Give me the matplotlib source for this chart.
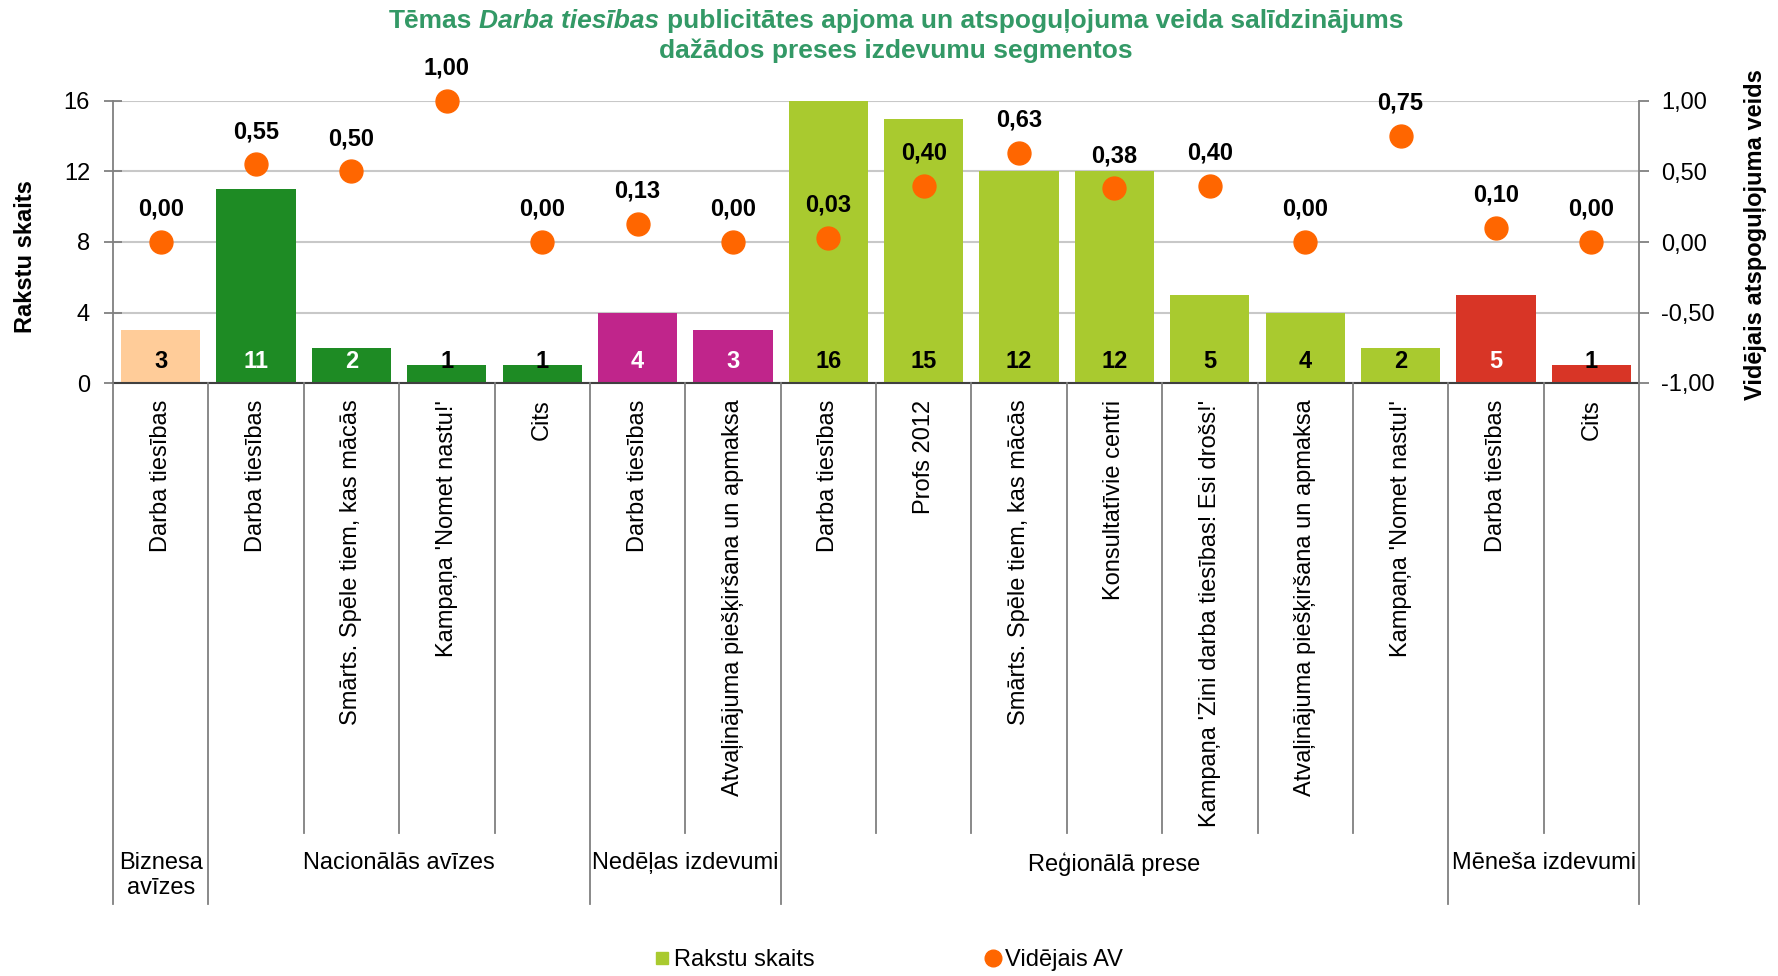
import matplotlib
matplotlib.use("Agg")
import matplotlib.pyplot as plt
from matplotlib.lines import Line2D
from matplotlib.transforms import blended_transform_factory

plt.rcParams["font.family"] = ["Liberation Sans", "DejaVu Sans"]

# --- data -------------------------------------------------------------
categories = [
    "Darba tiesības",
    "Darba tiesības", "Smārts. Spēle tiem, kas mācās", "Kampaņa 'Nomet nastu!'", "Cits",
    "Darba tiesības", "Atvaļinājuma piešķiršana un apmaksa",
    "Darba tiesības", "Profs 2012", "Smārts. Spēle tiem, kas mācās", "Konsultatīvie centri",
    "Kampaņa 'Zini darba tiesības! Esi drošs!'", "Atvaļinājuma piešķiršana un apmaksa",
    "Kampaņa 'Nomet nastu!'",
    "Darba tiesības", "Cits",
]
group_names = ["Biznesa\navīzes", "Nacionālās avīzes", "Nedēļas izdevumi",
               "Reģionālā prese", "Mēneša izdevumi"]
group_sizes = [1, 4, 2, 7, 2]
group_colors = ["#FFCC99", "#1E8B24", "#C0258B", "#A9CA2F", "#D83526"]
group_label_colors = ["black", "white", "white", "black", "white"]

counts = [3, 11, 2, 1, 1, 4, 3, 16, 15, 12, 12, 5, 4, 2, 5, 1]
avg_av = [0.00, 0.55, 0.50, 1.00, 0.00, 0.13, 0.00, 0.03, 0.40, 0.63, 0.38,
          0.40, 0.00, 0.75, 0.10, 0.00]

W_PX, H_PX = 1778, 976
FS = 17
GRAY = "#808080"


def comma(v, fmt="{:.2f}"):
    return fmt.format(v).replace(".", ",")


fig = plt.figure(figsize=(W_PX / 100, H_PX / 100), dpi=100)
ax_l, ax_r, ax_t, ax_b = 113, 1639, 101, 383
ax = fig.add_axes([ax_l / W_PX, 1 - ax_b / H_PX, (ax_r - ax_l) / W_PX, (ax_b - ax_t) / H_PX])

# per-bar colours from groups
bar_colors, label_colors = [], []
for size, col, lcol in zip(group_sizes, group_colors, group_label_colors):
    bar_colors += [col] * size
    label_colors += [lcol] * size

x = list(range(len(categories)))
ax.bar(x, counts, width=0.83, color=bar_colors, zorder=2)
for xi, c, lc in zip(x, counts, label_colors):
    ax.annotate(str(c), (xi, 0), xytext=(0, 11), textcoords="offset points",
                ha="center", va="baseline", fontsize=FS, fontweight="bold",
                color=lc if c > 1 else "black", zorder=5)

ax.set_xlim(-0.5, len(categories) - 0.5)
ax.set_ylim(0, 16)
ax.set_yticks([0, 4, 8, 12, 16])
ax.yaxis.grid(True, color="#C8C8C8", linewidth=1.5, zorder=0)
ax.set_axisbelow(True)
ax.set_xticks(x)
ax.set_xticklabels(categories, rotation=90, va="top", ha="center", fontsize=FS)
ax.tick_params(axis="x", length=0, pad=12)
ax.tick_params(axis="y", direction="inout", length=13, width=1.3, color=GRAY,
               labelsize=FS, pad=10)
for s in ["top", "right"]:
    ax.spines[s].set_visible(False)
ax.spines["left"].set_color(GRAY)
ax.spines["left"].set_linewidth(1.3)
ax.spines["bottom"].set_color("#404040")
ax.spines["bottom"].set_linewidth(1.5)
ax.set_ylabel("Rakstu skaits", fontsize=FS, fontweight="bold")
ax.yaxis.set_label_coords(-0.0498, 0.447)

ax2 = ax.twinx()
ax2.set_ylim(-1, 1)
ax2.set_yticks([-1, -0.5, 0, 0.5, 1])
ax2.set_yticklabels([comma(v) for v in [-1, -0.5, 0, 0.5, 1]])
ax2.plot(x, avg_av, linestyle="none", marker="o", markersize=16.5,
         color="#FF6600", zorder=4, clip_on=False)
for xi, v in zip(x, avg_av):
    ax2.annotate(comma(v), (xi, v), xytext=(0, 19), textcoords="offset points",
                 ha="center", va="baseline", fontsize=FS, fontweight="bold")
for s in ["top", "left", "bottom"]:
    ax2.spines[s].set_visible(False)
ax2.spines["right"].set_color(GRAY)
ax2.spines["right"].set_linewidth(1.3)
ax2.tick_params(axis="y", direction="out", length=7, width=1.3, color=GRAY,
                labelsize=FS, pad=9)
ax2.set_ylabel("Vidējais atspoguļojuma veids", fontsize=FS, fontweight="bold",
               rotation=90)
ax2.yaxis.set_label_coords(1.0688, 0.528)

# category / group separators below the axis
trans = blended_transform_factory(ax.transData, fig.transFigure)
y_axis = 1 - ax_b / H_PX
y_inner = 1 - 833 / H_PX
y_group = 1 - 904 / H_PX
bounds = [sum(group_sizes[:i]) for i in range(len(group_sizes) + 1)]
for k in range(len(categories) + 1):
    y_end = y_group if k in bounds else y_inner
    fig.add_artist(Line2D([k - 0.5, k - 0.5], [y_axis, y_end], transform=trans,
                          color=GRAY, linewidth=1.3))
for name, start, size in zip(group_names, bounds[:-1], group_sizes):
    fig.text(start + size / 2 - 0.5, 1 - 852 / H_PX, name, transform=trans,
             ha="center", va="top", fontsize=FS, linespacing=1.15)

# title (mixed bold / bold italic)
green = "#339966"
TFS = 19
renderer = fig.canvas.get_renderer()


def text_width(s, **kw):
    t = fig.text(0, 0, s, fontsize=TFS, fontweight="bold", **kw)
    w = t.get_window_extent(renderer).width
    t.remove()
    return w


space = text_width("a a") - text_width("aa")
parts = [("Tēmas", "normal"), ("Darba tiesības", "italic"),
         ("publicitātes apjoma un atspoguļojuma veida salīdzinājums", "normal")]
widths = [text_width(p, style=st) for p, st in parts]
total = sum(widths) + space * (len(parts) - 1)
cx = 896
pos = cx - total / 2
for (p, st), w in zip(parts, widths):
    fig.text(pos / W_PX, 1 - 28 / H_PX, p, fontsize=TFS, fontweight="bold", style=st,
             color=green, ha="left", va="baseline")
    pos += w + space
fig.text(cx / W_PX, 1 - 58 / H_PX, "dažādos preses izdevumu segmentos", fontsize=TFS,
         fontweight="bold", color=green, ha="center", va="baseline")

# legend
handles = [
    Line2D([], [], linestyle="none", marker="s", markersize=9, color="#A9CA2F",
           label="Rakstu skaits"),
    Line2D([], [], linestyle="none", marker="o", markersize=12, color="#FF6600",
           label="Vidējais AV"),
]
fig.legend(handles=handles, loc="center", bbox_to_anchor=(0.5, 1 - 960 / H_PX),
           ncol=2, frameon=False, fontsize=FS, handlelength=0.6, handletextpad=0.2,
           columnspacing=7.25)

fig.savefig("out.png", dpi=100)
